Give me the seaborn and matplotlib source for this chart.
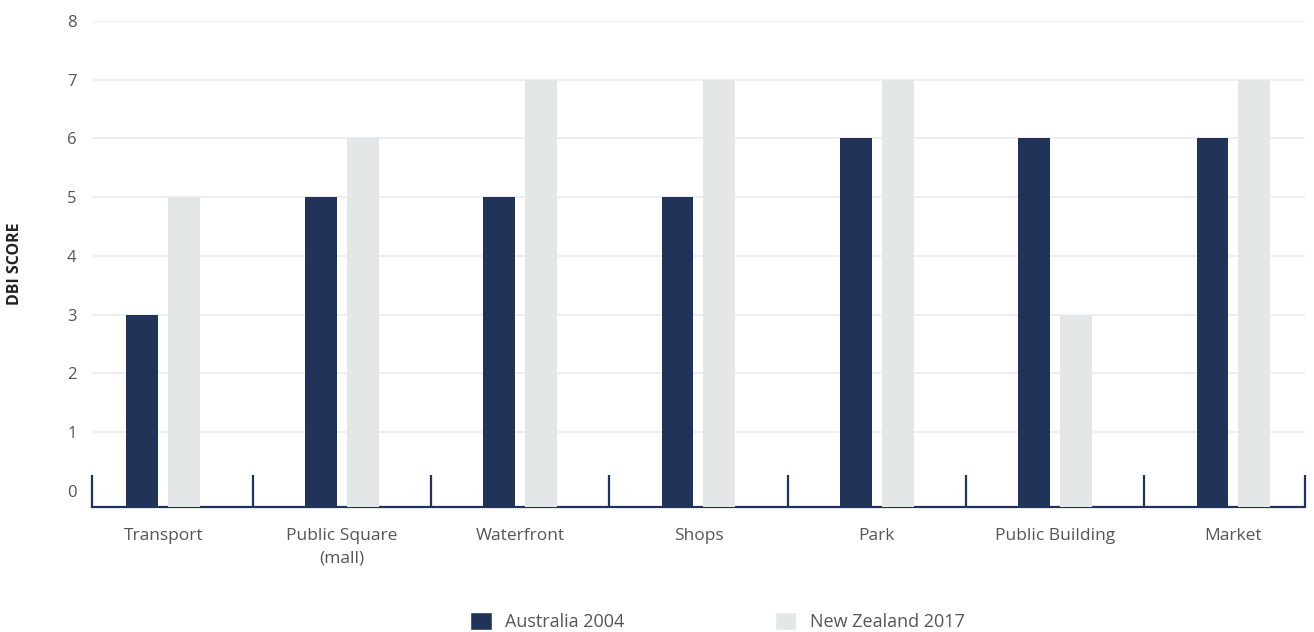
import matplotlib
matplotlib.use("Agg")
import matplotlib.pyplot as plt
import seaborn as sns
import pandas as pd
import numpy as np

categories = ["Transport", "Public Square\n(mall)", "Waterfront", "Shops", "Park", "Public Building", "Market"]
australia_2004 = [3, 5, 5, 5, 6, 6, 6]
new_zealand_2017 = [5, 6, 7, 7, 7, 3, 7]
series_names = ["Australia 2004", "New Zealand 2017"]
y_ticks = [0, 1, 2, 3, 4, 5, 6, 7, 8]

NAVY = "#22335A"
LIGHT = "#E4E7E8"
TEXT = "#555555"

df = pd.DataFrame({
    "category": categories * 2,
    "score": australia_2004 + new_zealand_2017,
    "series": [series_names[0]] * len(categories) + [series_names[1]] * len(categories),
})

sns.set_theme(style="white")
plt.rcParams["font.family"] = ["Open Sans", "DejaVu Sans"]

fig = plt.figure(figsize=(13.14, 6.32), dpi=100)
ax = fig.add_axes([0.070, 0.198, 0.923, 0.769])

sns.barplot(data=df, x="category", y="score", hue="series", order=categories,
            hue_order=series_names, palette=[NAVY, LIGHT], width=0.47, gap=0.24,
            saturation=1, ax=ax, zorder=3, legend=True, errorbar=None)

ymin, ymax = -0.27, 8
xmin, xmax = -0.4, 6.4
ax.set_ylim(ymin, ymax)
ax.set_xlim(xmin, xmax)

# extend bars down to the baseline axis
for p in ax.patches:
    if p.get_height() > 0 and p.get_width() < 1:
        top = p.get_y() + p.get_height()
        p.set_y(ymin)
        p.set_height(top - ymin)
        p.set_edgecolor("none")

ax.set_yticks(y_ticks)
ax.yaxis.grid(True, color="#E8EAEB", linewidth=1.1, zorder=0)
ax.set_axisbelow(True)
ax.yaxis.get_gridlines()[0].set_visible(False)

for s in ["top", "right", "left"]:
    ax.spines[s].set_visible(False)
ax.spines["bottom"].set_color(NAVY)
ax.spines["bottom"].set_linewidth(1.6)
ax.spines["bottom"].set_zorder(2)

ax.tick_params(axis="y", length=0, pad=11, labelsize=12, labelcolor=TEXT)
ax.tick_params(axis="x", which="major", length=0, pad=15, labelsize=12.5, labelcolor=TEXT)
for lbl in ax.get_xticklabels():
    lbl.set_linespacing(1.55)
boundaries = [xmin] + [i + 0.5 for i in range(len(categories) - 1)] + [xmax]
ax.set_xticks(boundaries, minor=True)
ax.tick_params(axis="x", which="minor", direction="in", length=23, width=1.6, color=NAVY, bottom=True)

ax.set_xlabel("")
ax.set_ylabel("DBI SCORE", fontsize=11.5, fontweight="bold", color="#222222", labelpad=32)

leg = ax.get_legend()
handles = leg.legend_handles
leg.remove()
fig.legend(handles, series_names, loc="center", bbox_to_anchor=(0.546, 0.017), ncol=2,
           frameon=False, fontsize=13, labelcolor=TEXT, handlelength=1.2, handleheight=1.2,
           handletextpad=0.75, columnspacing=8.3)

fig.savefig("out.png", dpi=100)
